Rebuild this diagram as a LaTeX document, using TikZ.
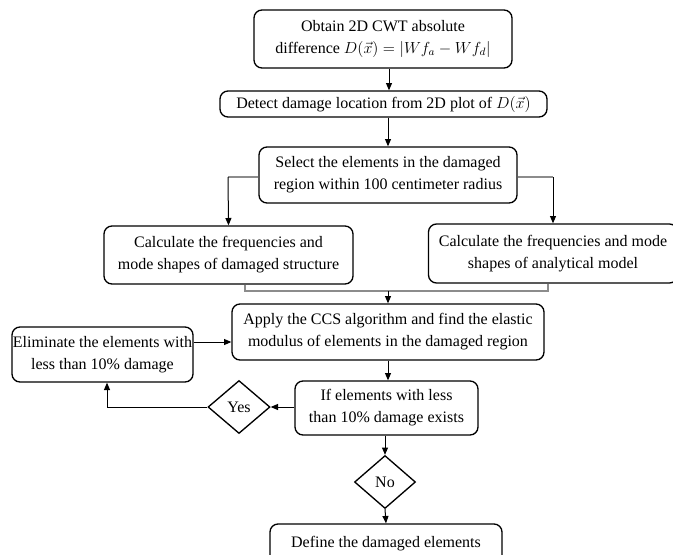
\documentclass[tikz,border=0pt]{standalone}
\usepackage{fontspec}
\setmainfont{Liberation Serif}
\usetikzlibrary{arrows.meta,shapes.geometric}
\begin{document}
\begin{tikzpicture}[x=0.75pt,y=-0.75pt,
  font=\fontsize{12pt}{16.5pt}\selectfont,
  box/.style={draw=black,line width=1pt,rounded corners=6pt,align=center,inner sep=0pt},
  dia/.style={draw=black,line width=1pt,shape=diamond,inner sep=0pt},
  conn/.style={draw=black,line width=0.75pt,-{Triangle[length=5.5pt,width=4.5pt]}},
  grayline/.style={draw=black!45,line width=0.9pt}]
\useasboundingbox (0,0) rectangle (673,554);
\node[box,minimum width=193.5pt,minimum height=43.5pt] (b1) at (383,39)
  {Obtain 2D CWT absolute\\difference $D(\vec{x}) = |Wf_a - Wf_d|$};
\node[box,minimum width=245.25pt,minimum height=19.5pt] (b2) at (383.5,104)
  {Detect damage location from 2D plot of $D(\vec{x})$};
\node[box,minimum width=193.5pt,minimum height=42pt] (b3) at (388,175)
  {Select the elements in the damaged\\region within 100 centimeter radius};
\node[box,minimum width=186.75pt,minimum height=43.5pt] (b4) at (228.5,255)
  {Calculate the frequencies and\\mode shapes of damaged structure};
\node[box,minimum width=186.75pt,minimum height=44.25pt] (b5) at (553,253.5)
  {Calculate the frequencies and mode\\shapes of analytical model};
\node[box,minimum width=234pt,minimum height=42pt] (b6) at (388,332)
  {Apply the CCS algorithm and find the elastic\\modulus of elements in the damaged region};
\node[box,minimum width=135.75pt,minimum height=41.25pt] (b7) at (102.5,354.5)
  {Eliminate the elements with\\less than 10\% damage};
\node[box,minimum width=137.25pt,minimum height=40.5pt] (b8) at (386.5,408)
  {If elements with less\\than 10\% damage exists};
\node[dia,minimum width=46.5pt,minimum height=39.75pt] (yes) at (239,407) {Yes};
\node[dia,minimum width=45.75pt,minimum height=39.75pt] (no) at (385,482) {No};
\node[box,minimum width=174pt,minimum height=30pt,text depth=0pt] (b9) at (386,544)
  {\raisebox{3pt}{Define the damaged elements}};
% connectors
\draw[conn] (b1.south -| 389,0) -- (b2.north -| 389,0);
\draw[conn] (b2.south -| 388,0) -- (b3.north);
\coordinate (lb) at (228,177);
\coordinate (rb) at (553,177);
\draw[grayline] (b3.west |- lb) -- (lb);
\draw[conn] (lb) -- (b4.north);
\draw[grayline] (b3.east |- rb) -- (rb);
\draw[conn] (rb) -- (b5.north);
\coordinate (m1) at (245,291);
\coordinate (m2) at (548,291);
\coordinate (mc) at (388,291);
\draw[grayline] (b4.south -| m1) -- (m1) -- (m2) -- (b5.south -| m2);
\draw[conn] (mc) -- (b6.north);
\coordinate (ea) at (0,342);
\draw[conn] (b7.east |- ea) -- (b6.west |- ea);
\draw[conn] (b6.south) -- (b8.north -| b6.south);
\draw[conn] (b8.west |- yes.east) -- (yes.east);
\coordinate (yl) at (107,407);
\draw[conn] (yes.west) -- (yl) -- (b7.south -| yl);
\draw[conn] (b8.south -| no.north) -- (no.north);
\draw[conn] (no.south) -- (b9.north);
\end{tikzpicture}
\end{document}
